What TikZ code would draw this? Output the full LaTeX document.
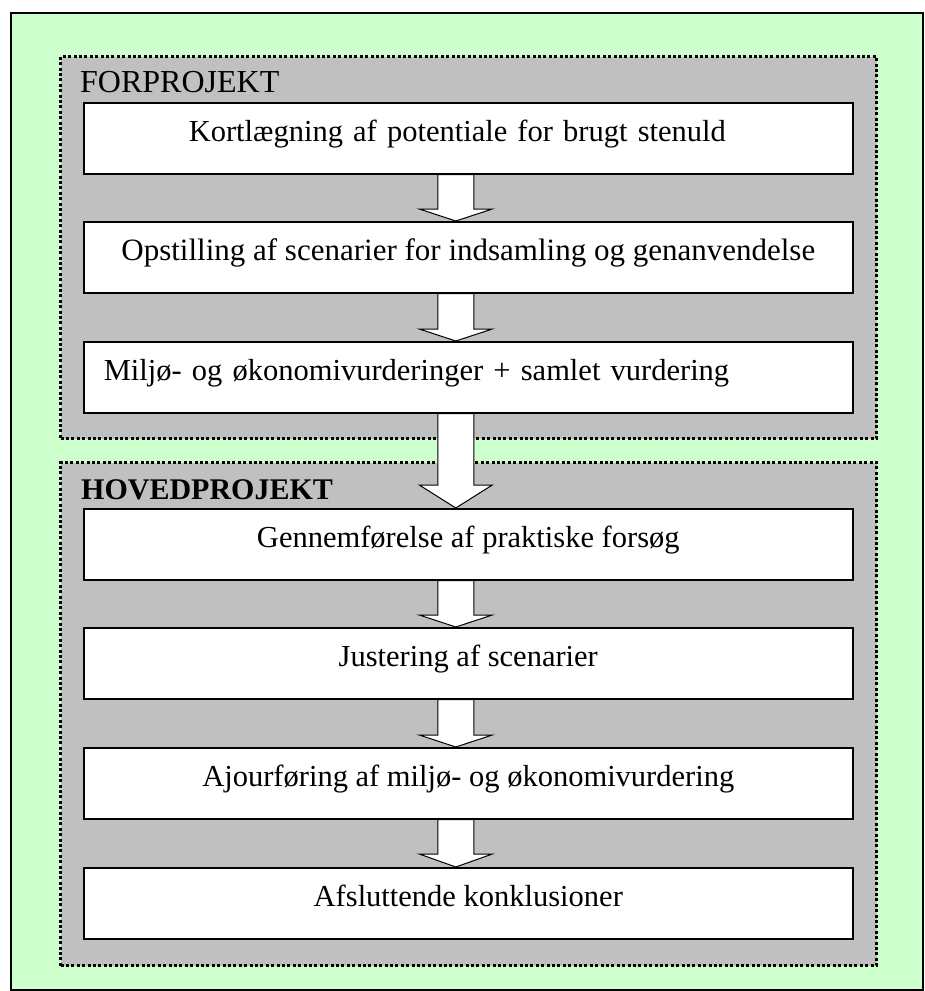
\documentclass[tikz,border=0pt]{standalone}
\usepackage{fontspec}
\setmainfont{Liberation Serif}
\usetikzlibrary{calc}
\definecolor{sheetgreen}{HTML}{CCFFCC}
\definecolor{phasegray}{HTML}{C0C0C0}

% hollow block arrow from the bottom of one step box to the top of the next
% #1 = upper box, #2 = lower box, #3 = height of the arrow head
\newcommand{\stepflow}[3]{%
  \draw[flowarrow] let \p1=(#1.south), \p2=(#2.north) in
    (\x1-30.5pt,\y1) -- (\x1-30.5pt,\y2+#3) -- (\x1-49pt,\y2+#3) --
    (\x1-12.5pt,\y2) -- (\x1+24pt,\y2+#3) -- (\x1+5.5pt,\y2+#3) --
    (\x1+5.5pt,\y1) -- cycle;}

\newcommand{\txt}[1]{\fontsize{#1}{36}\selectfont}

\begin{document}
\begin{tikzpicture}[x=1pt,y=-1pt,
  sheet/.style={draw=black, line width=1.5pt, fill=sheetgreen, rectangle,
    inner sep=0pt, anchor=north west},
  phase/.style={draw=black, fill=phasegray, line width=3.2pt,
    dash pattern=on 3pt off 2.4pt, rectangle, inner sep=0pt, anchor=north west},
  phasetitle/.style={anchor=base west, inner sep=0pt},
  stepbox/.style={draw=black, fill=white, line width=1.6pt, rectangle,
    anchor=north west, minimum width=769pt, minimum height=71pt, inner sep=0pt,
    text height=21pt, text depth=14pt, font=\txt{30.5}},
  flowarrow/.style={draw=black, fill=white, line width=1pt, line join=miter},
]
\useasboundingbox (0,0) rectangle (925,991);

% page background
\node[sheet, minimum width=912pt, minimum height=977pt] (sheet) at (10,12) {};

% the two project phases
\node[phase, minimum width=816pt, minimum height=382pt] (pre) at (59,55) {};
\node[phase, minimum width=816pt, minimum height=503pt] (main) at (59,461) {};

\node[phasetitle, font=\txt{32}] (pretitle) at (80,92) {FORPROJEKT};
\node[phasetitle, font=\txt{30}\bfseries] (maintitle) at (81,499) {HOVEDPROJEKT};

% steps of the preliminary project
\node[stepbox, align=left, text width=559pt, inner xsep=105pt]
  (b1) at (83,102) {Kortlægning af potentiale for brugt stenuld};
\node[stepbox, font=\txt{31}] (b2) at (83,221)
  {Opstilling af scenarier for indsamling og genanvendelse};
\node[stepbox, align=left, text width=729pt, inner xsep=20pt]
  (b3) at (83,341) {Miljø- og økonomivurderinger + samlet vurdering};

% steps of the main project
\node[stepbox] (b4) at (83,508) {Gennemførelse af praktiske forsøg};
\node[stepbox] (b5) at (83,627) {Justering af scenarier};
\node[stepbox] (b6) at (83,747) {Ajourføring af miljø- og økonomivurdering};
\node[stepbox] (b7) at (83,867) {Afsluttende konklusioner};

% flow between the steps
\stepflow{b1}{b2}{12pt}
\stepflow{b2}{b3}{12pt}
\stepflow{b3}{b4}{23pt}
\stepflow{b4}{b5}{12pt}
\stepflow{b5}{b6}{12pt}
\stepflow{b6}{b7}{13pt}
\end{tikzpicture}
\end{document}
